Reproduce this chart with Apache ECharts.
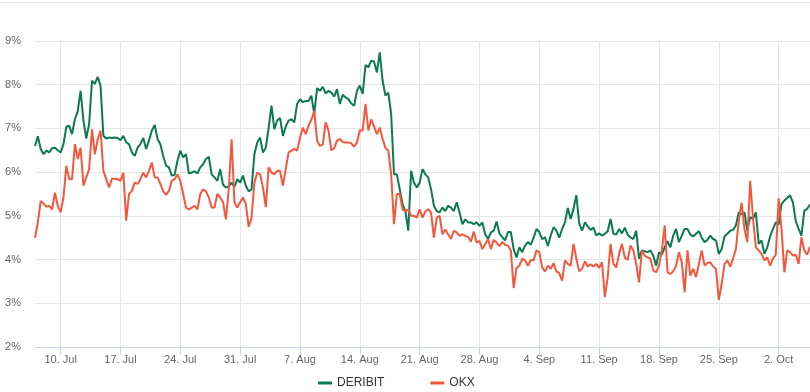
<!DOCTYPE html>
<html>
<head>
<meta charset="utf-8">
<script src="https://cdn.jsdelivr.net/npm/echarts@6/dist/echarts.min.js"></script>
<style>
html,body{margin:0;padding:0;background:#fff;}
#chart{width:810px;height:392px;}
</style>
</head>
<body>
<div id="chart"></div>
<script>
// Samples every 8 hours starting 2023-07-07 00:00 (UTC)
const startDate = '2023-07-07';
const stepHours = 8;

const tickDates = ['2023-07-10','2023-07-17','2023-07-24','2023-07-31','2023-08-07','2023-08-14','2023-08-21','2023-08-28','2023-09-04','2023-09-11','2023-09-18','2023-09-25','2023-10-02'];
const tickLabels = ['10. Jul','17. Jul','24. Jul','31. Jul','7. Aug','14. Aug','21. Aug','28. Aug','4. Sep','11. Sep','18. Sep','25. Sep','2. Oct'];

const yTicks = [2, 3, 4, 5, 6, 7, 8, 9];

const deribit = [
6.60,6.82,6.53,6.41,6.49,6.45,6.55,6.56,6.50,6.45,
6.64,7.04,7.06,6.87,7.21,7.39,7.86,7.18,6.77,7.10,
8.09,8.02,8.18,7.98,6.83,6.77,6.79,6.78,6.79,6.78,
6.73,6.83,6.68,6.64,6.45,6.37,6.56,6.64,6.78,6.53,
6.72,6.95,7.08,6.76,6.64,6.37,6.15,6.11,5.92,5.94,
6.26,6.49,6.34,6.41,5.97,5.99,6.02,5.97,6.11,6.18,
6.30,6.35,5.95,5.88,5.80,6.07,5.71,5.65,5.67,5.76,
5.66,5.84,5.76,5.92,5.69,5.56,5.61,6.41,6.68,6.79,
6.45,6.56,7.01,7.52,6.98,7.18,7.24,6.83,7.04,7.18,
7.21,7.14,7.56,7.67,7.60,7.63,7.63,7.75,7.33,7.92,
7.86,7.95,7.80,7.86,7.82,7.73,7.90,7.56,7.77,7.71,
7.67,7.57,7.52,7.86,7.98,7.79,8.45,8.40,8.55,8.53,
8.28,8.74,8.09,7.75,7.82,7.33,5.95,5.95,5.61,5.27,
5.11,4.66,6.03,5.76,5.65,5.76,6.07,5.95,5.88,5.61,
5.23,5.11,5.08,5.19,5.11,5.23,5.19,5.11,5.31,5.08,
4.81,4.92,4.85,4.85,4.81,4.85,4.77,4.85,4.58,4.47,
4.62,4.66,4.87,4.60,4.51,4.44,4.63,4.63,4.24,4.05,
4.28,4.17,4.32,4.40,4.34,4.50,4.70,4.63,4.47,4.51,
4.31,4.55,4.74,4.66,4.50,4.70,4.85,5.18,4.93,5.16,
5.47,4.83,4.66,4.85,4.76,4.68,4.73,4.55,4.60,4.55,
4.59,4.65,4.93,4.59,4.57,4.70,4.60,4.73,4.57,4.51,
4.47,4.66,4.02,4.21,4.19,4.17,4.21,4.09,3.86,4.17,
4.11,4.28,4.42,4.28,4.55,4.70,4.40,4.55,4.70,4.70,
4.57,4.53,4.59,4.65,4.50,4.40,4.45,4.55,4.47,4.44,
4.13,4.24,4.53,4.59,4.66,4.68,4.78,5.08,5.03,5.08,
4.66,4.97,4.93,5.08,4.36,4.44,4.13,4.28,4.53,4.70,
4.85,4.80,5.27,5.35,5.41,5.47,5.31,4.88,4.70,4.55,
5.12,5.16,5.26
];

const okx = [
4.50,4.85,5.34,5.28,5.21,5.23,5.15,5.53,5.23,5.08,
5.42,6.15,5.84,5.84,6.64,6.30,6.56,5.69,5.88,6.07,
6.98,6.41,6.75,6.95,6.03,5.84,5.65,5.85,5.85,5.84,
5.80,5.99,4.89,5.50,5.57,5.76,5.73,5.84,5.99,5.88,
6.03,6.22,5.88,5.88,5.73,5.56,5.48,5.57,5.80,5.84,
5.95,5.80,5.50,5.19,5.15,5.19,5.23,5.15,5.50,5.61,
5.56,5.42,5.19,5.19,5.50,5.42,5.31,4.92,5.61,6.75,
5.31,5.19,5.31,5.42,5.27,4.75,4.95,5.76,5.99,5.95,
5.65,5.20,6.11,5.99,5.95,6.03,6.03,5.69,6.07,6.45,
6.49,6.53,6.49,6.79,7.02,6.87,7.06,7.20,7.40,6.72,
6.60,6.63,7.14,6.95,6.50,6.55,6.72,6.76,6.69,6.68,
6.68,6.66,6.58,6.68,6.96,6.95,7.56,6.95,7.21,7.04,
6.87,7.02,6.76,6.55,6.49,5.95,4.81,5.50,5.50,5.15,
5.11,5.15,5.00,5.00,4.96,5.15,4.96,5.10,5.15,5.08,
4.50,4.96,5.00,4.58,4.69,4.58,4.47,4.66,4.62,4.54,
4.58,4.54,4.52,4.41,4.64,4.39,4.43,4.24,4.35,4.47,
4.24,4.45,4.39,4.31,4.40,4.34,4.32,4.21,3.35,3.81,
3.86,4.02,3.98,3.86,3.99,3.98,4.21,4.17,3.82,3.73,
3.86,3.79,3.92,3.73,3.69,3.52,3.98,3.90,3.86,4.36,
4.02,3.73,3.79,3.96,3.84,3.89,3.84,3.90,3.81,3.94,
3.14,3.60,4.36,3.90,3.82,4.13,4.36,4.05,3.99,4.32,
4.21,3.90,3.48,4.21,4.09,4.05,4.02,3.75,3.71,3.86,
4.21,4.78,3.71,3.67,3.73,3.86,4.17,3.94,3.25,4.21,
3.63,3.79,3.60,3.90,4.21,3.86,3.92,3.94,3.84,3.79,
3.08,3.44,3.90,3.98,3.84,4.02,4.24,4.89,5.30,4.70,
4.40,5.80,4.95,4.28,4.21,4.13,3.98,4.05,3.86,4.02,
4.11,5.40,4.70,3.71,4.21,4.17,4.09,4.11,3.90,4.51,
4.21,4.11,4.30
];

function pad(n){ return (n < 10 ? '0' : '') + n; }
const t0 = Date.parse(startDate + 'T00:00:00Z');
const categories = deribit.map(function(_, i){
  const d = new Date(t0 + i * stepHours * 3600 * 1000);
  return d.getUTCFullYear() + '-' + pad(d.getUTCMonth()+1) + '-' + pad(d.getUTCDate()) + ' ' + pad(d.getUTCHours()) + ':00';
});
function isTick(idx, val){
  return val.slice(11) === '00:00' && tickDates.indexOf(val.slice(0,10)) >= 0;
}

const font = "'Liberation Sans', Arial, Helvetica, sans-serif";
const chart = echarts.init(document.getElementById('chart'), null, {renderer:'canvas'});
chart.setOption({
  animation: false,
  backgroundColor: '#ffffff',
  textStyle: {fontFamily: font},
  grid: {left: 35, right: 0, top: 41, bottom: 45, containLabel: false},
  graphic: [{
    type: 'line', silent: true,
    shape: {x1: 0, y1: 2.5, x2: 810, y2: 2.5},
    style: {stroke: '#e6e6e6', lineWidth: 1}
  }],
  legend: {
    left: 318, top: 377, padding: 0,
    itemWidth: 14, itemHeight: 3, itemGap: 46,
    icon: 'roundRect',
    textStyle: {color: '#333333', fontSize: 12, fontFamily: font},
    data: ['DERIBIT', 'OKX']
  },
  xAxis: {
    type: 'category',
    data: categories,
    boundaryGap: false,
    axisLine: {show: true, lineStyle: {color: '#ccd6eb', width: 1}},
    axisTick: {show: true, interval: isTick, length: 8, lineStyle: {color: '#ccd6eb'}},
    splitLine: {show: true, interval: isTick, lineStyle: {color: '#e6e6e6', width: 1}},
    axisLabel: {
      interval: isTick,
      margin: 7,
      color: '#666666',
      fontSize: 11,
      fontFamily: font,
      formatter: function(val){
        const k = tickDates.indexOf(val.slice(0,10));
        return k >= 0 ? tickLabels[k] : '';
      }
    }
  },
  yAxis: {
    type: 'value',
    min: yTicks[0], max: yTicks[yTicks.length-1], interval: 1,
    axisLine: {show: false},
    axisTick: {show: false},
    splitLine: {lineStyle: {color: '#e6e6e6', width: 1}},
    axisLabel: {
      margin: 14,
      color: '#666666',
      fontSize: 11,
      fontFamily: font,
      formatter: '{value}%'
    }
  },
  series: [
    {
      name: 'DERIBIT', type: 'line', data: deribit,
      showSymbol: false, symbol: 'none',
      lineStyle: {color: '#0b7a50', width: 2},
      itemStyle: {color: '#0b7a50'}
    },
    {
      name: 'OKX', type: 'line', data: okx,
      showSymbol: false, symbol: 'none',
      lineStyle: {color: '#f5573c', width: 2},
      itemStyle: {color: '#f5573c'}
    }
  ]
});
</script>
</body>
</html>
